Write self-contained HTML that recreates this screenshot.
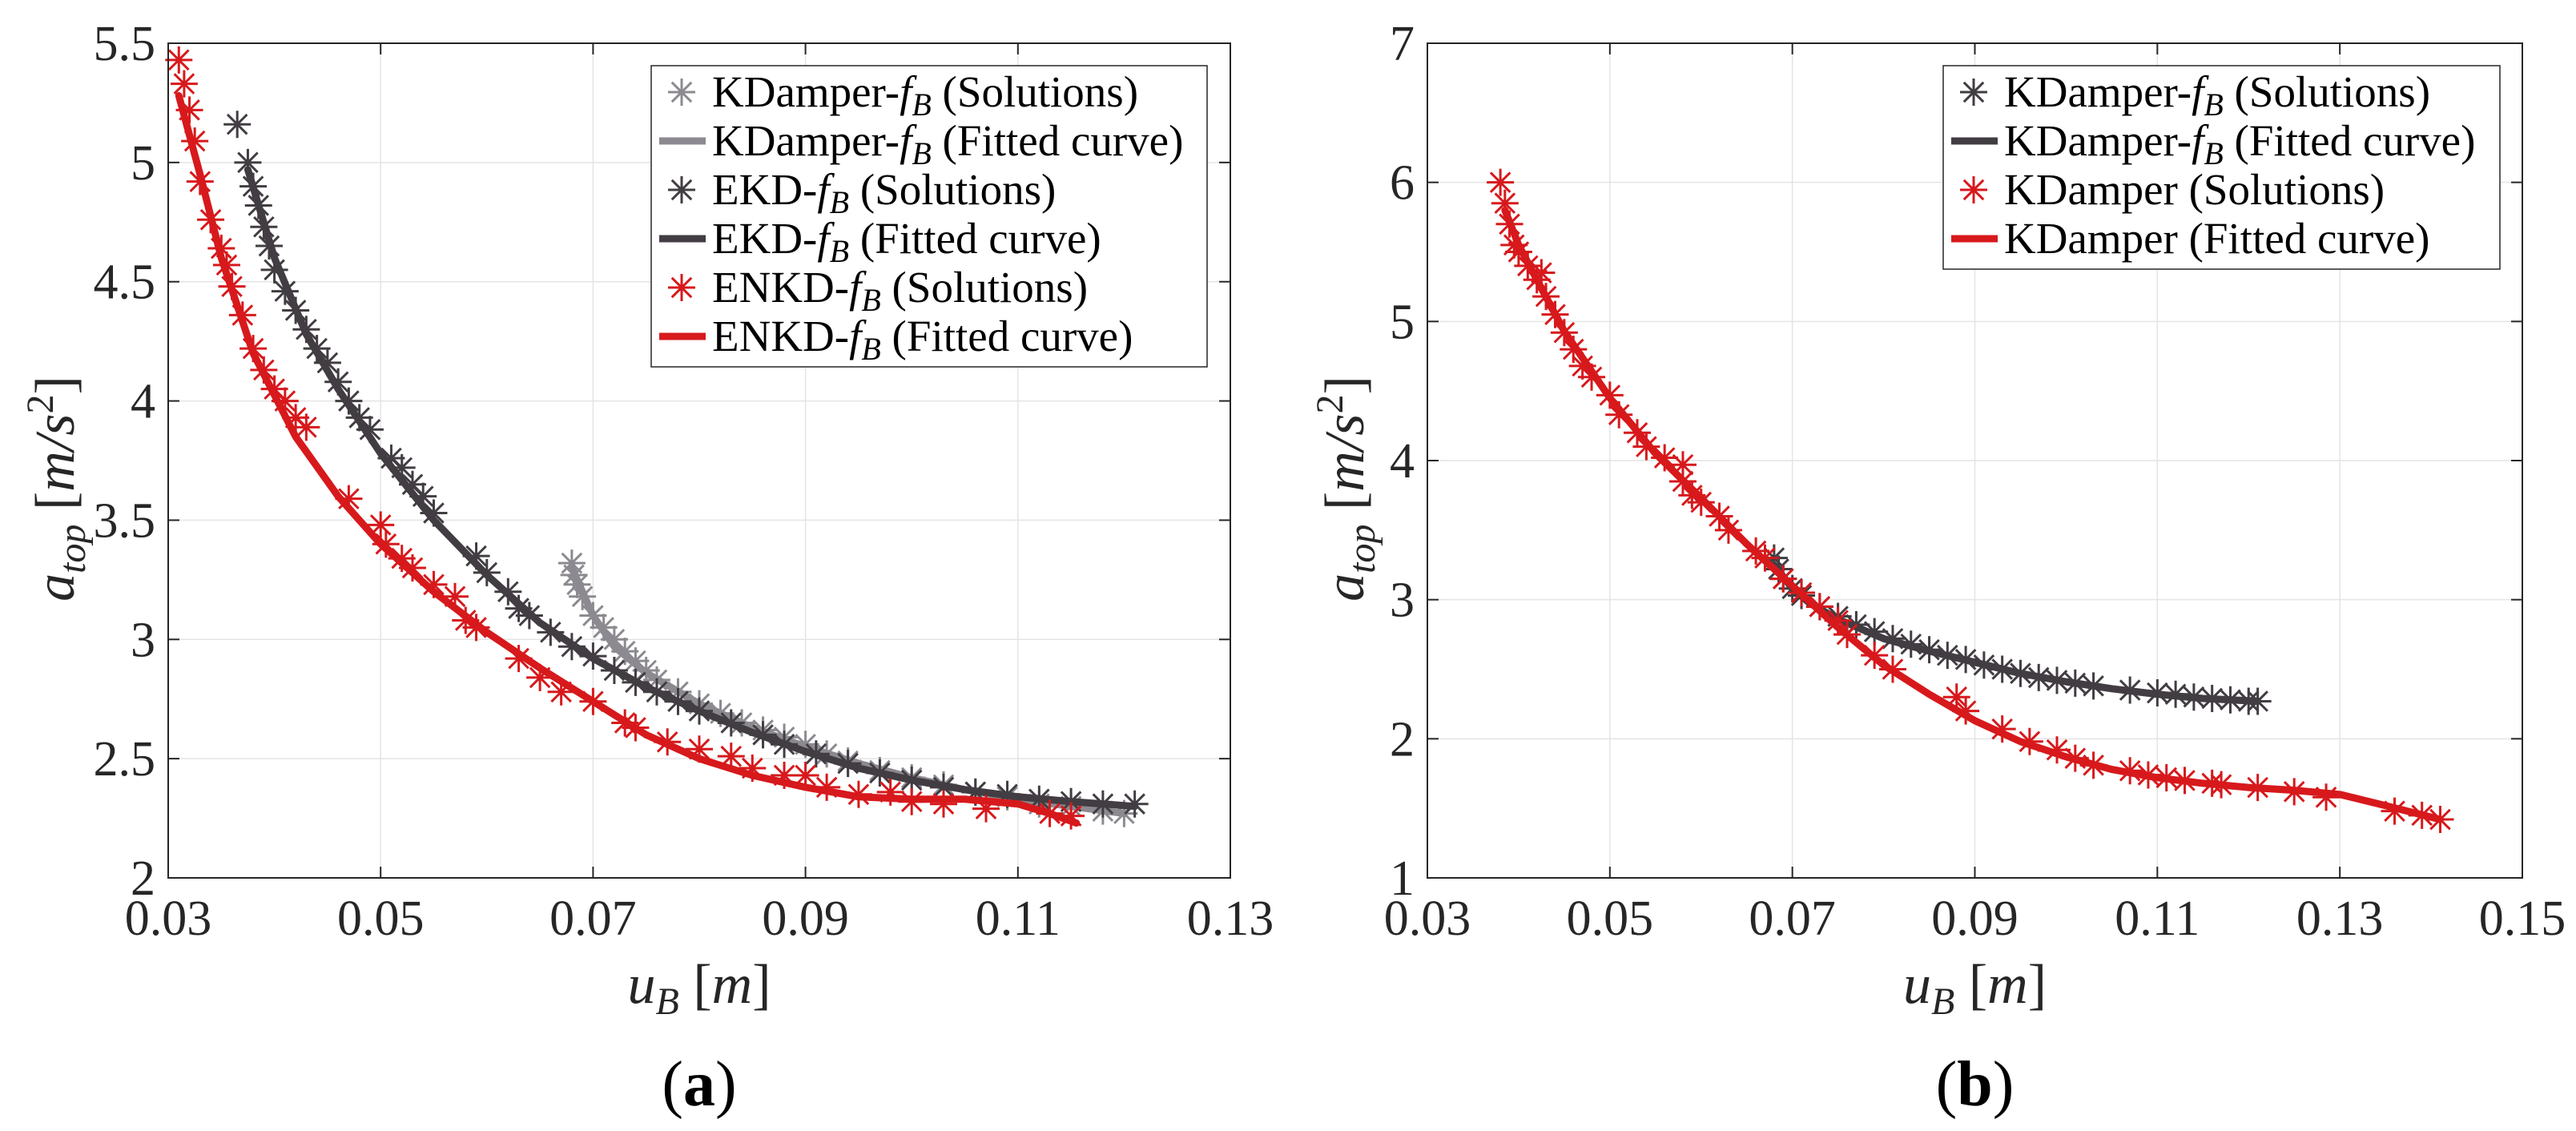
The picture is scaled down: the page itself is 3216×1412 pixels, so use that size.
<!DOCTYPE html>
<html><head><meta charset="utf-8">
<style>
html,body{margin:0;padding:0;background:#fff;}
svg{display:block;font-family:"Liberation Serif",serif;}
</style></head>
<body>
<svg id="fig" width="3216" height="1412" viewBox="0 0 3216 1412" xmlns="http://www.w3.org/2000/svg"></svg>
<script>
// ---- Panel (a) data ----
const aKDampX = [0.068,0.0682,0.0685,0.069,0.070,0.071,0.072,0.073,0.074,0.075,0.076,0.078,0.080,0.082,0.084,0.086,0.088,0.090,0.092,0.094,0.097,0.100,0.103,0.106,0.109,0.112,0.115,0.118,0.120];
const aKDampY = [3.32,3.27,3.23,3.18,3.10,3.05,3.00,2.95,2.91,2.87,2.83,2.78,2.73,2.69,2.65,2.62,2.59,2.56,2.52,2.49,2.45,2.42,2.39,2.36,2.34,2.31,2.30,2.28,2.27];
const aKDampFitX = [0.068,0.070,0.072,0.075,0.080,0.085,0.090,0.095,0.100,0.105,0.110,0.115,0.120];
const aKDampFitY = [3.30,3.10,2.97,2.86,2.73,2.63,2.55,2.48,2.42,2.37,2.33,2.30,2.27];
const aEKDX = [0.0365,0.0375,0.038,0.0385,0.039,0.0395,0.040,0.041,0.042,0.043,0.044,0.045,0.046,0.047,0.048,0.049,0.051,0.052,0.053,0.054,0.055,0.059,0.060,0.062,0.063,0.064,0.066,0.068,0.070,0.072,0.074,0.076,0.078,0.080,0.083,0.086,0.088,0.091,0.094,0.097,0.100,0.103,0.106,0.109,0.112,0.115,0.118,0.121];
const aEKDY = [5.16,5.00,4.90,4.82,4.73,4.65,4.55,4.46,4.38,4.30,4.22,4.16,4.08,4.00,3.93,3.88,3.76,3.72,3.65,3.60,3.53,3.35,3.28,3.20,3.13,3.10,3.03,2.97,2.93,2.87,2.82,2.78,2.74,2.70,2.65,2.60,2.56,2.52,2.48,2.44,2.41,2.38,2.36,2.35,2.33,2.32,2.31,2.31];
const aEKDFitX = [0.0375,0.040,0.043,0.046,0.050,0.055,0.060,0.065,0.070,0.075,0.080,0.085,0.090,0.095,0.100,0.105,0.110,0.115,0.121];
const aEKDFitY = [4.97,4.60,4.28,4.05,3.78,3.50,3.27,3.07,2.92,2.80,2.70,2.61,2.53,2.46,2.41,2.37,2.34,2.32,2.30];
const aENKDX = [0.031,0.0315,0.032,0.0325,0.033,0.034,0.035,0.0355,0.036,0.037,0.038,0.039,0.040,0.041,0.042,0.043,0.047,0.050,0.0505,0.052,0.053,0.055,0.057,0.058,0.059,0.063,0.065,0.067,0.070,0.073,0.074,0.077,0.080,0.083,0.085,0.088,0.090,0.092,0.095,0.098,0.100,0.103,0.107,0.113,0.115];
const aENKDY = [5.43,5.33,5.22,5.09,4.92,4.76,4.64,4.57,4.48,4.36,4.22,4.13,4.05,4.00,3.93,3.89,3.59,3.48,3.40,3.34,3.30,3.23,3.18,3.08,3.05,2.92,2.84,2.78,2.74,2.65,2.63,2.57,2.54,2.51,2.46,2.43,2.43,2.38,2.35,2.36,2.32,2.31,2.29,2.27,2.26];
const aENKDFitX = [0.031,0.033,0.035,0.038,0.042,0.046,0.050,0.055,0.060,0.065,0.070,0.075,0.080,0.085,0.090,0.095,0.100,0.105,0.110,0.113,0.1155];
const aENKDFitY = [5.28,4.95,4.60,4.20,3.85,3.60,3.40,3.20,3.03,2.88,2.74,2.60,2.50,2.43,2.38,2.34,2.33,2.33,2.31,2.27,2.23];
const aXTicks = [0.03,0.05,0.07,0.09,0.11,0.13];
const aYTicks = [2,2.5,3,3.5,4,4.5,5,5.5];
const aYTickLabels = ["2","2.5","3","3.5","4","4.5","5","5.5"];
// ---- Panel (b) data ----
const bKDfbX = [0.068,0.0685,0.069,0.070,0.071,0.073,0.075,0.077,0.079,0.081,0.083,0.085,0.087,0.089,0.091,0.093,0.095,0.097,0.099,0.101,0.103,0.107,0.110,0.112,0.114,0.116,0.118,0.120,0.121];
const bKDfbY = [3.30,3.22,3.15,3.08,3.03,2.95,2.88,2.82,2.77,2.72,2.68,2.64,2.60,2.57,2.53,2.50,2.47,2.44,2.42,2.40,2.38,2.35,2.33,2.32,2.30,2.29,2.28,2.27,2.27];
const bKDfbFitX = [0.068,0.070,0.072,0.075,0.080,0.085,0.090,0.095,0.100,0.105,0.110,0.115,0.121];
const bKDfbFitY = [3.25,3.08,2.97,2.86,2.72,2.63,2.55,2.47,2.41,2.36,2.32,2.29,2.27];
const bKDX = [0.038,0.0385,0.039,0.0395,0.040,0.041,0.042,0.0425,0.043,0.044,0.045,0.046,0.047,0.048,0.050,0.051,0.053,0.054,0.056,0.058,0.058,0.059,0.060,0.062,0.063,0.066,0.067,0.069,0.071,0.073,0.075,0.076,0.079,0.081,0.088,0.089,0.093,0.096,0.099,0.101,0.103,0.107,0.109,0.111,0.113,0.116,0.117,0.121,0.125,0.1285,0.136,0.139,0.141];
const bKDY = [6.00,5.85,5.70,5.55,5.50,5.40,5.30,5.35,5.18,5.05,4.92,4.80,4.68,4.60,4.47,4.33,4.20,4.10,4.02,3.97,3.85,3.75,3.70,3.60,3.50,3.35,3.30,3.15,3.05,2.95,2.85,2.75,2.60,2.50,2.30,2.20,2.07,1.98,1.92,1.86,1.81,1.77,1.74,1.72,1.70,1.68,1.67,1.65,1.62,1.58,1.48,1.45,1.42];
const bKDFitX = [0.0385,0.040,0.042,0.045,0.050,0.055,0.060,0.065,0.070,0.075,0.080,0.085,0.090,0.095,0.100,0.105,0.110,0.115,0.120,0.125,0.130,0.135,0.141];
const bKDFitY = [5.80,5.55,5.30,4.93,4.45,4.05,3.73,3.40,3.10,2.80,2.53,2.32,2.13,1.98,1.87,1.78,1.72,1.68,1.65,1.63,1.60,1.52,1.42];
const bXTicks = [0.03,0.05,0.07,0.09,0.11,0.13,0.15];
const bYTicks = [1,2,3,4,5,6,7];
const bYTickLabels = ["1","2","3","4","5","6","7"];

const RED="#d7191c", DARK="#423d42", LIGHT="#8c8a90";
const svg=document.getElementById('fig');
const NS="http://www.w3.org/2000/svg";
function mk(tag,attrs,parent){const e=document.createElementNS(NS,tag);for(const k in attrs)e.setAttribute(k,attrs[k]);(parent||svg).appendChild(e);return e;}

function star(g,cx,cy,color,r){
  const d=`M${cx-r},${cy}H${cx+r}M${cx},${cy-r}V${cy+r}M${cx-r*0.72},${cy-r*0.72}L${cx+r*0.72},${cy+r*0.72}M${cx-r*0.72},${cy+r*0.72}L${cx+r*0.72},${cy-r*0.72}`;
  const p=mk('path',{d:d,stroke:color,'stroke-width':3,fill:'none'},g);
  
  
}

function panel(cfg){
  const g=mk('g',{});
  
  
  const L=cfg.L,R=cfg.R,T=54,B=1096;
  const sx=v=>L+(v-cfg.x0)/(cfg.x1-cfg.x0)*(R-L);
  const sy=v=>B-(v-cfg.y0)/(cfg.y1-cfg.y0)*(B-T);
  cfg.xt.forEach(t=>{const l=mk('line',{x1:sx(t),x2:sx(t),y1:T,y2:B,stroke:'#e4e4e4','stroke-width':1.5},g);});
  cfg.yt.forEach(t=>{const l=mk('line',{x1:L,x2:R,y1:sy(t),y2:sy(t),stroke:'#e4e4e4','stroke-width':1.5},g);});
  cfg.xt.forEach((t,i)=>{
    mk('line',{x1:sx(t),x2:sx(t),y1:B,y2:B-14,stroke:'#262626','stroke-width':2},g);
    mk('line',{x1:sx(t),x2:sx(t),y1:T,y2:T+14,stroke:'#262626','stroke-width':2},g);
    const tx=mk('text',{x:sx(t),y:1167,'text-anchor':'middle','font-size':62,fill:'#262626'},g);
    tx.textContent=String(t);
    
    
  });
  cfg.yt.forEach((t,i)=>{
    mk('line',{x1:L,x2:L+14,y1:sy(t),y2:sy(t),stroke:'#262626','stroke-width':2},g);
    mk('line',{x1:R,x2:R-14,y1:sy(t),y2:sy(t),stroke:'#262626','stroke-width':2},g);
    const tx=mk('text',{x:L-16,y:sy(t)+21,'text-anchor':'end','font-size':62,fill:'#262626'},g);
    tx.textContent=cfg.ytl[i];
    
    
  });
  cfg.series.forEach(s=>{
    const sg=mk('g',{},g);
    
    
    s.px.forEach((x,i)=>star(sg,sx(x),sy(s.py[i]),s.color,17));
    const pts=s.fx.map((x,i)=>sx(x)+','+sy(s.fy[i])).join(' ');
    const pl=mk('polyline',{points:pts,fill:'none',stroke:s.color,'stroke-width':9,'stroke-linejoin':'round','stroke-linecap':'round'},sg);
    
    
  });
  const box=mk('rect',{x:L,y:T,width:R-L,height:B-T,fill:'none',stroke:'#262626','stroke-width':2},g);
  
  
  const xl=mk('text',{x:(L+R)/2,y:1252,'text-anchor':'middle','font-size':70,fill:'#262626'},g);
  xl.innerHTML='<tspan font-style="italic">u</tspan><tspan font-style="italic" font-size="48" dy="14">B</tspan><tspan dy="-14"> [</tspan><tspan font-style="italic">m</tspan>]';
  
  
  const yl=mk('text',{x:0,y:0,'text-anchor':'middle','font-size':70,fill:'#262626',transform:`translate(${cfg.ylx},${(T+B)/2+35}) rotate(-90)`},g);
  yl.innerHTML='<tspan font-style="italic">a</tspan><tspan font-style="italic" font-size="48" dy="14">top</tspan><tspan dy="-14"> [</tspan><tspan font-style="italic">m/s</tspan><tspan font-size="48" dy="-26">2</tspan><tspan dy="26">]</tspan>';
  
  
  const cap=mk('text',{x:(L+R)/2,y:1380,'text-anchor':'middle','font-size':80,fill:'#000'},g);
  cap.innerHTML='(<tspan font-weight="bold">'+cfg.cap+'</tspan>)';
  
  
  const lg=mk('g',{},g);
  
  
  const rows=cfg.legend.length;
  mk('rect',{x:cfg.lx,y:82,width:cfg.lw,height:rows*61+10,fill:'#fff',stroke:'#262626','stroke-width':1.5},lg);
  cfg.legend.forEach((e,i)=>{
    const y=115+i*61;
    const eg=mk('g',{},lg);
    
    
    if(e.type==='m') star(eg,cfg.lx+38,y,e.color,17);
    else mk('line',{x1:cfg.lx+10,x2:cfg.lx+68,y1:y,y2:y,stroke:e.color,'stroke-width':9},eg);
    const t=mk('text',{x:cfg.lx+76,y:y+18,'font-size':55,fill:'#000'},eg);
    t.innerHTML=e.a+(e.fb?'-<tspan font-style="italic">f</tspan><tspan font-style="italic" font-size="40" dy="11">B</tspan><tspan dy="-11"> </tspan>':' ')+e.b;
  });
}

panel({name:'panel-a',L:210,R:1536,x0:0.03,x1:0.13,y0:2,y1:5.5,xt:aXTicks,yt:aYTicks,ytl:aYTickLabels,ylx:92,cap:'a',lx:813,lw:694,
  series:[
    {name:'kdamper-fb',color:LIGHT,px:aKDampX,py:aKDampY,fx:aKDampFitX,fy:aKDampFitY},
    {name:'ekd-fb',color:DARK,px:aEKDX,py:aEKDY,fx:aEKDFitX,fy:aEKDFitY},
    {name:'enkd-fb',color:RED,px:aENKDX,py:aENKDY,fx:aENKDFitX,fy:aENKDFitY}],
  legend:[
    {type:'m',color:LIGHT,a:'KDamper',fb:true,b:'(Solutions)'},
    {type:'l',color:LIGHT,a:'KDamper',fb:true,b:'(Fitted curve)'},
    {type:'m',color:DARK,a:'EKD',fb:true,b:'(Solutions)'},
    {type:'l',color:DARK,a:'EKD',fb:true,b:'(Fitted curve)'},
    {type:'m',color:RED,a:'ENKD',fb:true,b:'(Solutions)'},
    {type:'l',color:RED,a:'ENKD',fb:true,b:'(Fitted curve)'}]});

panel({name:'panel-b',L:1782,R:3149,x0:0.03,x1:0.15,y0:1,y1:7,xt:bXTicks,yt:bYTicks,ytl:bYTickLabels,ylx:1702,cap:'b',lx:2426,lw:695,
  series:[
    {name:'kdamper-fb',color:DARK,px:bKDfbX,py:bKDfbY,fx:bKDfbFitX,fy:bKDfbFitY},
    {name:'kdamper',color:RED,px:bKDX,py:bKDY,fx:bKDFitX,fy:bKDFitY}],
  legend:[
    {type:'m',color:DARK,a:'KDamper',fb:true,b:'(Solutions)'},
    {type:'l',color:DARK,a:'KDamper',fb:true,b:'(Fitted curve)'},
    {type:'m',color:RED,a:'KDamper',fb:false,b:'(Solutions)'},
    {type:'l',color:RED,a:'KDamper',fb:false,b:'(Fitted curve)'}]});
</script>
</body></html>
